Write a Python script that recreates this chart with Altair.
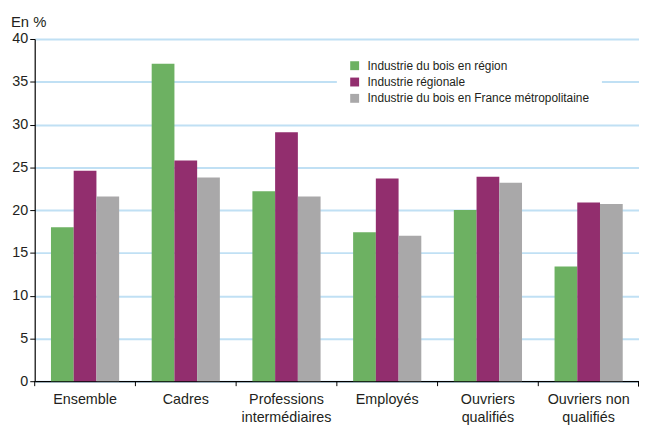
import altair as alt
import pandas as pd

categories = ["Ensemble", "Cadres", "Professions intermédiaires", "Employés",
              "Ouvriers qualifiés", "Ouvriers non qualifiés"]
series = ["Industrie du bois en région", "Industrie régionale",
          "Industrie du bois en France métropolitaine"]
bois_region = [18.0, 37.1, 22.2, 17.4, 20.0, 13.4]
industrie_regionale = [24.6, 25.8, 29.1, 23.7, 23.9, 20.9]
bois_france = [21.6, 23.8, 21.6, 17.0, 23.2, 20.7]
colors = ["#6db162", "#922e6e", "#a9a8a9"]
y_ticks = [0, 5, 10, 15, 20, 25, 30, 35, 40]

rows = []
for s, vals in zip(series, [bois_region, industrie_regionale, bois_france]):
    for c, v in zip(categories, vals):
        rows.append({"cat": c, "serie": s, "val": v})
df = pd.DataFrame(rows)
cat_df = pd.DataFrame({"cat": categories})

FONT = "Liberation Sans"
W, H = 611, 346

x_scale = alt.Scale(domain=categories, paddingInner=0, paddingOuter=0)

bars = alt.Chart(df).mark_bar(size=23).encode(
    x=alt.X("cat:N", scale=x_scale, sort=categories,
            axis=alt.Axis(title=None, labelAngle=0, ticks=False, domain=True,
                          domainColor="#000000", domainWidth=1.2,
                          labelFont=FONT, labelFontSize=14.5, labelColor="#231f20",
                          labelPadding=12, labelLineHeight=18,
                          labelExpr="datum.label == 'Ouvriers non qualifiés' ? ['Ouvriers non', 'qualifiés'] : split(datum.label, ' ')")),
    xOffset=alt.XOffset("serie:N", sort=series,
                        scale=alt.Scale(domain=series, paddingInner=0, paddingOuter=0.717)),
    y=alt.Y("val:Q", scale=alt.Scale(domain=[0, 40], nice=False),
            axis=alt.Axis(values=y_ticks, title="En %", titleAngle=0,
                          titleX=-24.5, titleY=-13, titleAlign="left",
                          titleBaseline="alphabetic", titleFont=FONT,
                          titleFontSize=15, titleFontWeight="normal",
                          titleColor="#231f20",
                          labelFont=FONT, labelFontSize=14.5, labelColor="#231f20",
                          labelPadding=2, tickSize=5, tickColor="#000000",
                          domainColor="#000000", domainWidth=1.2,
                          grid=True, gridColor="#c0e0f4", gridWidth=2)),
    color=alt.Color("serie:N", sort=series,
                    scale=alt.Scale(domain=series, range=colors),
                    legend=alt.Legend(title=None, orient="none", legendX=305.5, legendY=9,
                                      fillColor="#ffffff", padding=12,
                                      symbolType="square", symbolSize=81,
                                      symbolStrokeWidth=0, labelFont=FONT,
                                      labelFontSize=12, labelColor="#231f20",
                                      labelLimit=400,
                                      labelOffset=7, rowPadding=4.5)),
)

ticks = alt.Chart(cat_df).mark_rule(color="#000000", strokeWidth=1).encode(
    x=alt.X("cat:N", scale=x_scale, sort=categories, bandPosition=0),
    y=alt.value(H),
    y2=alt.value(H + 5),
)
last_tick = alt.Chart(cat_df).mark_rule(color="#000000", strokeWidth=1).encode(
    x=alt.value(W - 0.5),
    y=alt.value(H),
    y2=alt.value(H + 5),
)

chart = alt.layer(bars, ticks, last_tick).properties(
    width=W, height=H,
    autosize=alt.AutoSizeParams(type="none"),
    padding={"left": 27, "top": 29, "right": 0, "bottom": 47},
).configure_view(stroke=None)

chart.save("out.html", embed_options={"renderer": "svg", "actions": False})
